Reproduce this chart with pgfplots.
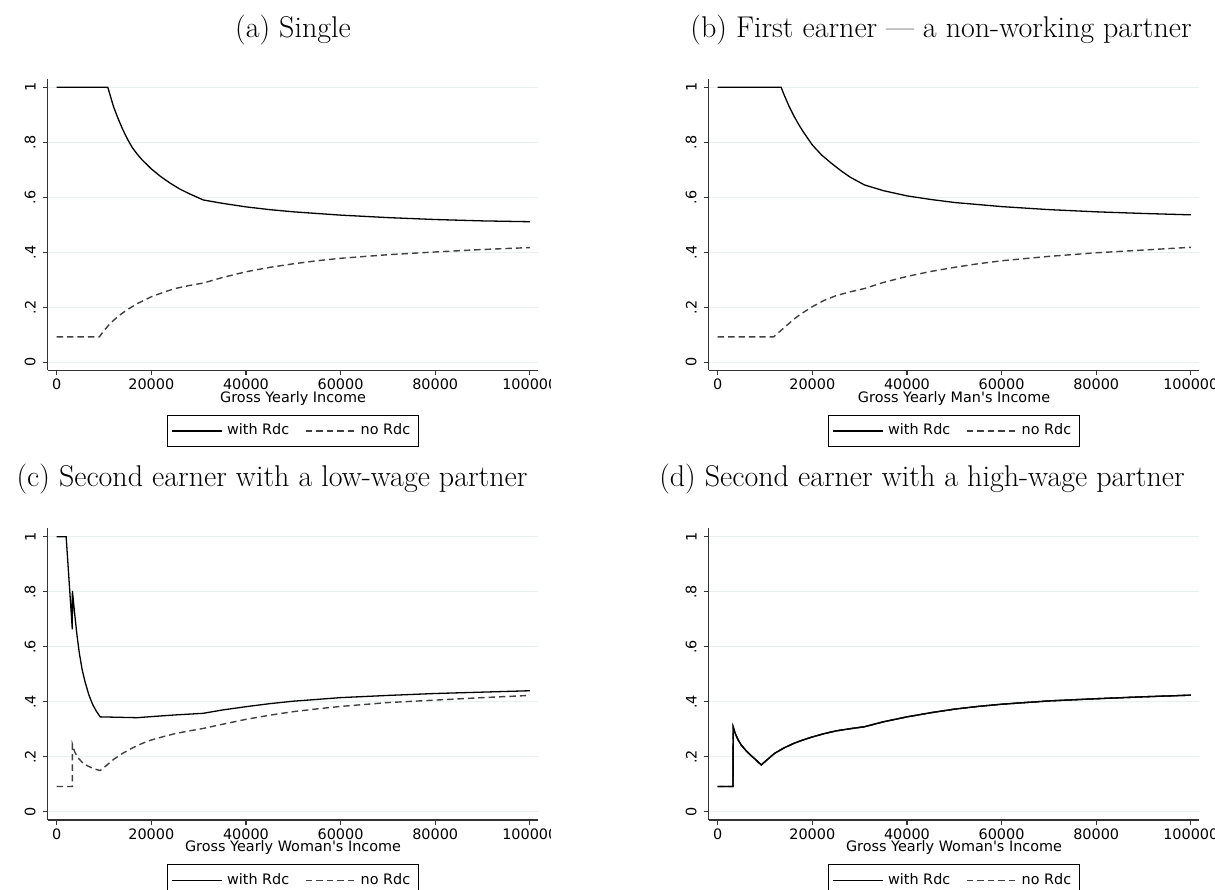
\documentclass[border=0pt]{standalone}
\usepackage{fontspec}
\usepackage{pgfplots}
\pgfplotsset{compat=1.18}
\newfontfamily\dv{DejaVu Sans}
\definecolor{gridc}{RGB}{232,240,241}

\pgfplotstableread{
x y
0 1
10800 1
12000 0.93
13000 0.885
14000 0.845
15000 0.81
16000 0.78
17000 0.757
18000 0.737
20000 0.703
22000 0.675
24000 0.651
26000 0.63
28000 0.613
31000 0.590
35000 0.578
40000 0.565
45000 0.555
50000 0.547
60000 0.535
70000 0.526
80000 0.519
90000 0.514
100000 0.511
}\aWith
\pgfplotstableread{
x y
0 0.092
9000 0.092
10000 0.115
11000 0.135
12000 0.152
13000 0.167
14000 0.18
15000 0.192
17000 0.213
20000 0.238
22500 0.254
25000 0.268
28000 0.279
31000 0.288
35000 0.308
40000 0.329
45000 0.345
50000 0.358
55000 0.369
60000 0.378
70000 0.391
80000 0.401
90000 0.41
100000 0.417
}\aNo
\pgfplotstableread{
x y
0 1
13400 1
14000 0.974
15000 0.934
16000 0.899
17000 0.868
18000 0.84
20000 0.79
22000 0.753
24000 0.724
26000 0.697
28000 0.673
31000 0.645
35000 0.624
40000 0.605
45000 0.592
50000 0.581
60000 0.566
70000 0.555
80000 0.547
90000 0.541
100000 0.536
}\bWith
\pgfplotstableread{
x y
0 0.092
11800 0.092
13000 0.11
14000 0.125
15000 0.14
16000 0.155
17000 0.168
18000 0.18
20000 0.202
22500 0.225
25000 0.242
28000 0.256
31000 0.268
35000 0.29
40000 0.312
45000 0.33
50000 0.345
55000 0.358
60000 0.369
70000 0.385
80000 0.398
90000 0.408
100000 0.418
}\bNo
\pgfplotstableread{
x y
0 1
2000 1
3300 0.663
3320 0.803
3800 0.72
4300 0.64
4800 0.575
5400 0.515
6000 0.472
6800 0.425
7600 0.39
8400 0.365
9200 0.345
17000 0.342
20000 0.346
25000 0.352
31000 0.358
35000 0.37
40000 0.382
45000 0.393
50000 0.402
60000 0.415
70000 0.423
80000 0.43
90000 0.435
100000 0.44
}\cWith
\pgfplotstableread{
x y
0 0.092
3300 0.092
3320 0.245
3800 0.218
4500 0.196
5500 0.178
6500 0.167
7500 0.159
8500 0.153
9200 0.15
10500 0.168
12000 0.19
14000 0.213
16000 0.232
18000 0.248
20000 0.261
22500 0.273
25000 0.284
28000 0.294
31000 0.303
35000 0.318
40000 0.336
45000 0.351
50000 0.364
55000 0.374
60000 0.383
70000 0.397
80000 0.406
90000 0.415
100000 0.423
}\cNo
\pgfplotstableread{
x y
0 0.092
3250 0.092
3270 0.308
3700 0.285
4300 0.262
5000 0.242
6000 0.222
7000 0.205
8000 0.19
9200 0.17
10500 0.19
12000 0.212
14000 0.232
16000 0.248
18000 0.261
20000 0.272
22500 0.284
25000 0.294
28000 0.302
31000 0.309
35000 0.327
40000 0.345
45000 0.36
50000 0.373
55000 0.383
60000 0.391
70000 0.403
80000 0.411
90000 0.418
100000 0.424
}\dWith

\pgfplotsset{
  stataax/.style={
    scale only axis, width=245.35pt, height=145.75pt,
    xmin=-1902, xmax=101818, ymin=-0.03, ymax=1.03,
    axis lines=left, axis line style={-, black!80, line width=0.6pt},
    xtick={0,20000,40000,60000,80000,100000},
    xticklabels={0,20000,40000,60000,80000,100000},
    ytick={0,0.2,0.4,0.6,0.8,1},
    yticklabels={0,.2,.4,.6,.8,1},
    scaled ticks=false,
    tick align=outside, major tick length=2.5pt,
    tick style={black!80, line width=0.6pt},
    ymajorgrids, grid style={gridc, line width=0.6pt},
    ticklabel style={font=\dv\fontsize{7.2}{8.5}\selectfont},
    yticklabel style={rotate=90, anchor=south},
    xticklabel style={anchor=north, inner sep=1.6pt},
    label style={font=\dv\fontsize{7.2}{8.5}\selectfont},
    xlabel style={at={(axis description cs:0.5,0)}, anchor=center, yshift=-14pt},
    legend columns=2,
    legend cell align=left,
    legend style={at={(0.5,-0.151)}, anchor=north, draw=black, line width=0.5pt,
      font=\dv\fontsize{7.2}{8.5}\selectfont, inner xsep=2pt, inner ysep=2.5pt,
      /tikz/every even column/.append style={column sep=6pt}},
    legend image code/.code={\draw[##1] (0pt,0pt) -- (25pt,0pt);},
  },
  solidl/.style={black, line width=0.65pt, no marks},
  dashl/.style={black!75, line width=0.7pt, dash pattern=on 3.2pt off 2pt, no marks},
}

\begin{document}
\begin{tikzpicture}
\path[use as bounding box] (0,0) rectangle (607.5pt,444.5pt);

\node[anchor=base, font=\fontsize{15}{18}\selectfont] at (146.5pt,425.5pt) {(a) Single};
\node[anchor=base, font=\fontsize{15}{18}\selectfont] at (470.5pt,425.5pt) {(b) First earner — a non-working partner};
\node[anchor=base, font=\fontsize{15}{18}\selectfont] at (136pt,201pt) {(c) Second earner with a low-wage partner};
\node[anchor=base, font=\fontsize{15}{18}\selectfont] at (461pt,201pt) {(d) Second earner with a high-wage partner};

\begin{scope}
\clip (0,0) rectangle (275pt,444.5pt);
\begin{axis}[stataax, at={(23.85pt,259.25pt)}, anchor=south west, xlabel={Gross Yearly Income}]
\addplot[solidl] table {\aWith};
\addlegendentry{with Rdc}
\addplot[dashl] table {\aNo};
\addlegendentry{no Rdc}
\end{axis}
\end{scope}

\begin{axis}[stataax, at={(354.35pt,259.25pt)}, anchor=south west, xlabel={Gross Yearly Man's Income}]
\addplot[solidl] table {\bWith};
\addlegendentry{with Rdc}
\addplot[dashl] table {\bNo};
\addlegendentry{no Rdc}
\end{axis}

\begin{scope}
\clip (0,0) rectangle (275pt,444.5pt);
\begin{axis}[stataax, at={(23.85pt,34.5pt)}, anchor=south west, xlabel={Gross Yearly Woman's Income}]
\addplot[solidl] table {\cWith};
\addlegendentry{with Rdc}
\addplot[dashl] table {\cNo};
\addlegendentry{no Rdc}
\end{axis}
\end{scope}

\begin{axis}[stataax, at={(354.35pt,34.5pt)}, anchor=south west, xlabel={Gross Yearly Woman's Income}]
\addplot[solidl] table {\dWith};
\addlegendentry{with Rdc}
\addplot[dashl] table {\dWith};
\addlegendentry{no Rdc}
\addplot[solidl, forget plot] table {\dWith};
\end{axis}
\end{tikzpicture}
\end{document}
